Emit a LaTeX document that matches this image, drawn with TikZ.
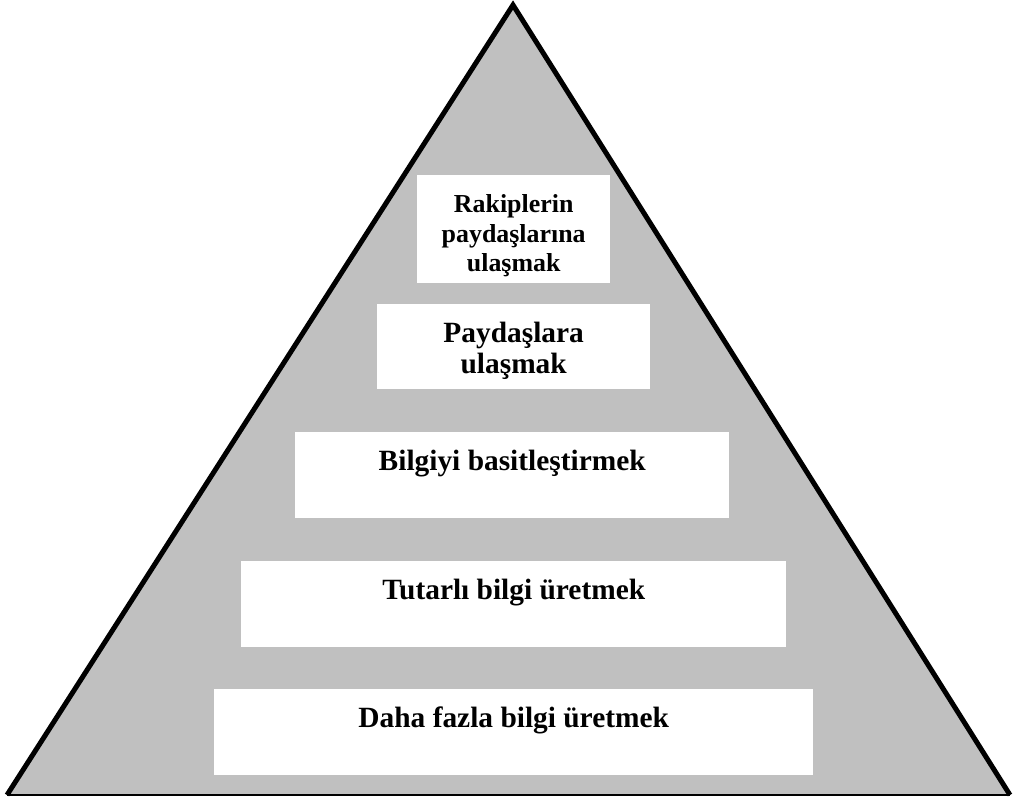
\documentclass[tikz,border=0pt]{standalone}
\usepackage{fontspec}
\setmainfont{Liberation Serif}
\begin{document}
\begin{tikzpicture}[x=1bp,y=-1bp,
  levelbox/.style={fill=white, draw=none, inner sep=0pt, anchor=north west},
  leveltext/.style={anchor=north, align=center, inner sep=0pt,
    font=\fontsize{29.5}{31}\selectfont\bfseries},
  smalltext/.style={leveltext, font=\fontsize{26}{30}\selectfont\bfseries},
  side/.style={line width=5bp, line join=miter, miter limit=10}]
\useasboundingbox (0,0) rectangle (1014,801);
% pyramid
\coordinate (apex) at (513,5);
\coordinate (bl) at (7,795);
\coordinate (br) at (1010,795);
\fill[fill={rgb,255:red,192;green,192;blue,192}] (bl) -- (apex) -- (br) -- cycle;
\draw[side] (bl) -- (apex) -- (br);
\draw[line width=2bp] (bl) -- (br);
% levels, top to bottom
\node[levelbox, minimum width=193bp, minimum height=108bp,
  label={[smalltext, yshift=-19bp]north:{Rakiplerin\\paydaşlarına\\ulaşmak}}] (l1) at (417,175) {};
\node[levelbox, minimum width=273bp, minimum height=85bp,
  label={[leveltext, yshift=-18bp]north:{Paydaşlara\\ulaşmak}}] (l2) at (377,304) {};
\node[levelbox, minimum width=434bp, minimum height=86bp,
  label={[leveltext, yshift=-18bp]north:{Bilgiyi basitleştirmek}}] (l3) at (295,432) {};
\node[levelbox, minimum width=545bp, minimum height=86bp,
  label={[leveltext, yshift=-18bp]north:{Tutarlı bilgi üretmek}}] (l4) at (241,561) {};
\node[levelbox, minimum width=599bp, minimum height=86bp,
  label={[leveltext, yshift=-18bp]north:{Daha fazla bilgi üretmek}}] (l5) at (214,689) {};
\end{tikzpicture}
\end{document}
